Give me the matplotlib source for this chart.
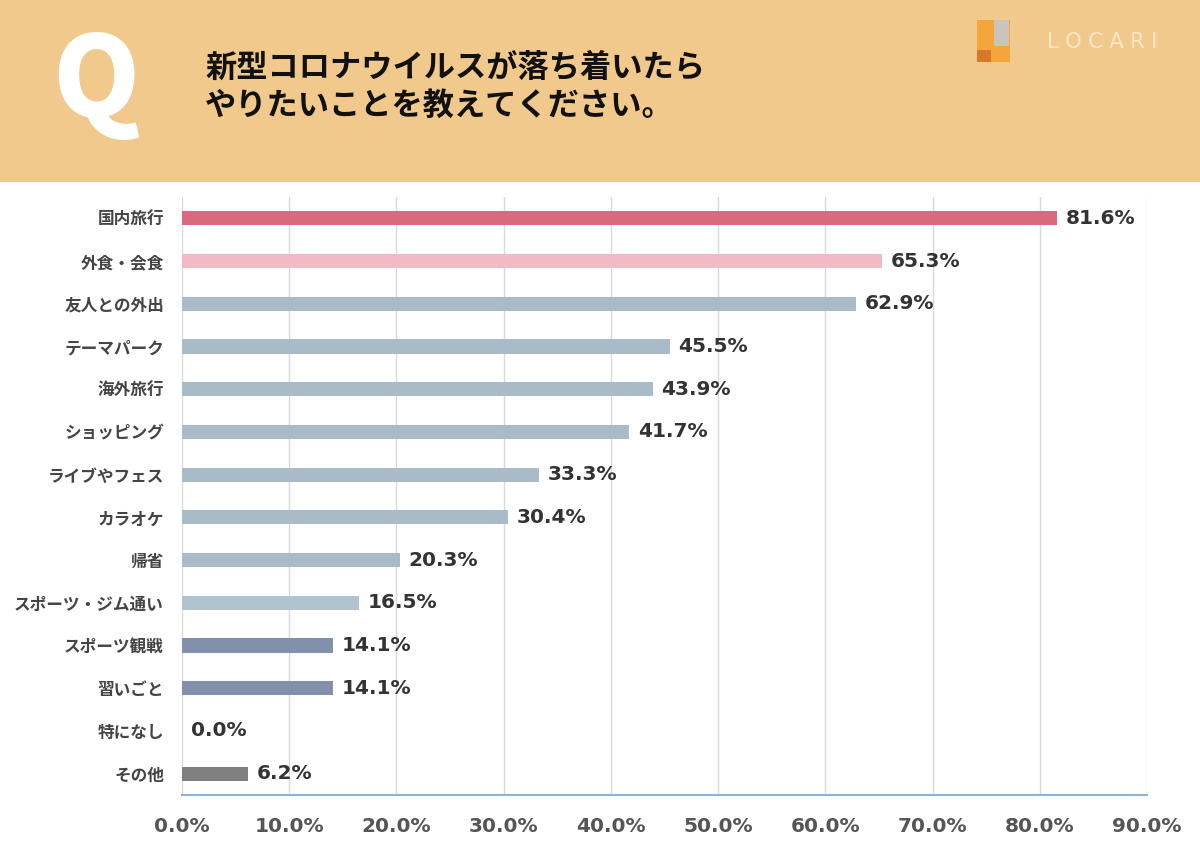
import matplotlib.pyplot as plt
from matplotlib.patches import Rectangle

plt.rcParams["font.family"] = ["Noto Sans CJK JP", "DejaVu Sans"]

categories = ["国内旅行", "外食・会食", "友人との外出", "テーマパーク", "海外旅行", "ショッピング",
              "ライブやフェス", "カラオケ", "帰省", "スポーツ・ジム通い", "スポーツ観戦", "習いごと",
              "特になし", "その他"]
values = [81.6, 65.3, 62.9, 45.5, 43.9, 41.7, 33.3, 30.4, 20.3, 16.5, 14.1, 14.1, 0.0, 6.2]
colors = ["#D96A7E", "#F3B9C5", "#A9BBC8", "#A9BBC8", "#A9BBC8", "#A9BBC8", "#A9BBC8",
          "#A9BBC8", "#A9BBC8", "#B0C4CF", "#8390AC", "#8390AC", "#8390AC", "#808080"]
xticks = [0, 10, 20, 30, 40, 50, 60, 70, 80, 90]
title_lines = ["新型コロナウイルスが落ち着いたら", "やりたいことを教えてください。"]

fig = plt.figure(figsize=(12, 8.48), dpi=100)
fig.patch.set_facecolor("white")

# header band
fig.patches.append(Rectangle((0, 1 - 182 / 848), 1, 182 / 848, transform=fig.transFigure,
                             facecolor="#F2C98C", edgecolor="none", zorder=0))
fig.text(96 / 1200, 1 - 84 / 848, "Q", fontsize=80, fontweight="black", color="white",
         ha="center", va="center", family="Noto Sans CJK JP")
fig.text(205 / 1200, 1 - 68 / 848, title_lines[0], fontsize=22.5, fontweight="bold",
         color="#111111", ha="left", va="center")
fig.text(205 / 1200, 1 - 106 / 848, title_lines[1], fontsize=22.5, fontweight="bold",
         color="#111111", ha="left", va="center")

# logo
fig.patches.append(Rectangle((977 / 1200, 1 - 62 / 848), 33 / 1200, 42 / 848, transform=fig.transFigure,
                             facecolor="#F4A63A", edgecolor="none"))
fig.patches.append(Rectangle((994 / 1200, 1 - 46 / 848), 15 / 1200, 26 / 848, transform=fig.transFigure,
                             facecolor="#C9C5BE", edgecolor="none"))
fig.patches.append(Rectangle((977 / 1200, 1 - 62 / 848), 14 / 1200, 12 / 848, transform=fig.transFigure,
                             facecolor="#D9782A", edgecolor="none"))
fig.text(1102 / 1200, 1 - 42 / 848, "L O C A R I", fontsize=15, color="#FAE6C8",
         ha="center", va="center", family="DejaVu Sans")

ax = fig.add_axes([182 / 1200, 1 - 795 / 848, (1147 - 182) / 1200, (795 - 197) / 848])
y = list(range(len(categories)))
ax.barh(y, values, height=0.33, color=colors, zorder=3)
ax.set_xlim(0, 90)
ax.set_ylim(13.5, -0.5)
ax.set_xticks(xticks)
ax.set_xticklabels([f"{t:.1f}%" for t in xticks], fontsize=14.5, fontweight="bold",
                   color="#555555", family="DejaVu Sans")
ax.set_yticks(y)
ax.set_yticklabels(categories, fontsize=12, fontweight="bold", color="#444444")
ax.tick_params(length=0)
ax.tick_params(axis="x", pad=16)
ax.tick_params(axis="y", pad=13)
ax.grid(axis="x", color="#D9D9D9", linewidth=1, zorder=0)
for side in ["top", "right", "left"]:
    ax.spines[side].set_visible(False)
ax.spines["bottom"].set_color("#8FB3D0")
ax.spines["bottom"].set_linewidth(1.5)

for yi, v in zip(y, values):
    ax.text(v + 0.8, yi, f"{v:.1f}%", fontsize=14.5, fontweight="bold", color="#333333",
            ha="left", va="center", family="DejaVu Sans")

fig.savefig("out.png", dpi=100)
